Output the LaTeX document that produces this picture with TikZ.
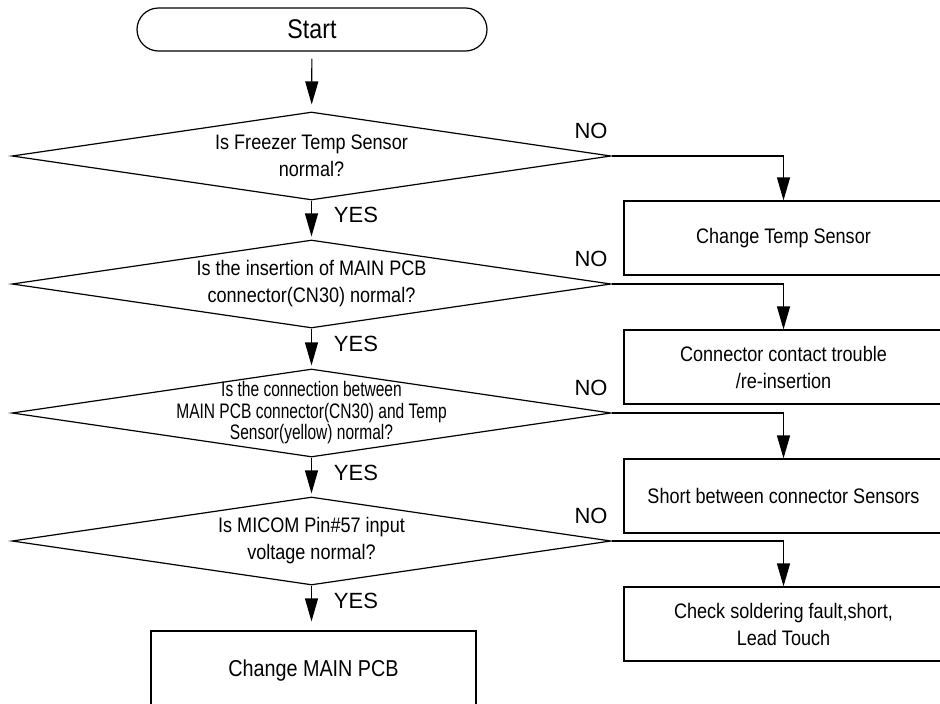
\documentclass[tikz,border=0pt]{standalone}
\usepackage{fontspec}
\setmainfont{Liberation Sans}[FakeStretch=0.86]
\newfontfamily\answerfont{Liberation Sans}
\newfontfamily\tightfont{Liberation Sans}[FakeStretch=0.74]
\usetikzlibrary{arrows.meta, shapes.geometric}

\begin{document}
\begin{tikzpicture}[
  x=1pt, y=-1pt,
  >={Triangle[length=23pt, width=13pt]},
  every node/.style={font=\fontsize{21}{27}\selectfont, align=center},
  terminal/.style={draw, line width=1.2pt, rounded corners=21.5pt, minimum width=350pt, minimum height=43pt, font=\fontsize{27}{27}\selectfont},
  decision/.style={diamond, draw, line width=1.2pt, minimum width=599pt, minimum height=88pt, inner sep=0pt},
  fixbox/.style={draw, line width=1.2pt, minimum width=319pt, minimum height=74pt},
  flow/.style={draw, line width=1.2pt, ->},
  answer/.style={font=\answerfont\fontsize{22}{22}\selectfont},
]

% Page frame (boxes on the right run off the page)
\useasboundingbox (0,0) rectangle (940,704);
\clip (0,0) rectangle (940,704);

% Start
\node[terminal] (start) at (312,29.5) {Start};

% Decisions
\node[decision] (d1) at (311.5,156) {};
\node (q1) at (d1) {Is Freezer Temp Sensor\\normal?};

\node[decision] (d2) at (311.5,284) {};
\node (q2) at (d2) {Is the insertion of MAIN PCB\\connector(CN30) normal?};

\node[decision] (d3) at (311.5,413) {};
\node[font=\tightfont\fontsize{21}{21.5}\selectfont] (q3) at (d3)
  {Is the connection between\\MAIN PCB connector(CN30) and Temp\\Sensor(yellow) normal?};

\node[decision] (d4) at (311.5,541) {};
\node (q4) at (d4) {Is MICOM Pin\#57 input\\voltage normal?};

% Fixes on the NO side
\node[fixbox] (fix1) at (783.5,238) {Change Temp Sensor};
\node[fixbox] (fix2) at (783.5,367) {Connector contact trouble\\/re-insertion};
\node[fixbox] (fix3) at (783.5,496) {Short between connector Sensors};
\node[fixbox] (fix4) at (783.5,624) {Check soldering fault,short,\\Lead Touch};

% Last step
\node[fixbox, minimum width=325pt, minimum height=80pt, font=\fontsize{23}{27}\selectfont] (pcb) at (313.5,671) {Change MAIN PCB};

% YES path
\draw[flow, shorten <=7pt, shorten >=7pt] (start) -- (d1);
\draw[flow, shorten >=3pt] (d1) -- (d2);
\draw[flow, shorten >=3pt] (d2) -- (d3);
\draw[flow, shorten >=3pt] (d3) -- (d4);
\draw[flow, shorten >=9pt] (d4.south) -- (d4.south |- pcb.north);

% NO path
\draw[flow] (d1.east) -| (fix1.north);
\draw[flow] (d2.east) -| (fix2.north);
\draw[flow] (d3.east) -| (fix3.north);
\draw[flow] (d4.east) -| (fix4.north);

% Answer labels
\node[answer] (yes1) at (356,215) {YES};
\node[answer] (yes2) at (356,344) {YES};
\node[answer] (yes3) at (356,473) {YES};
\node[answer] (yes4) at (356,601) {YES};
\node[answer] (no1) at (591,131) {NO};
\node[answer] (no2) at (591,259) {NO};
\node[answer] (no3) at (591,388) {NO};
\node[answer] (no4) at (591,516) {NO};

\end{tikzpicture}
\end{document}
